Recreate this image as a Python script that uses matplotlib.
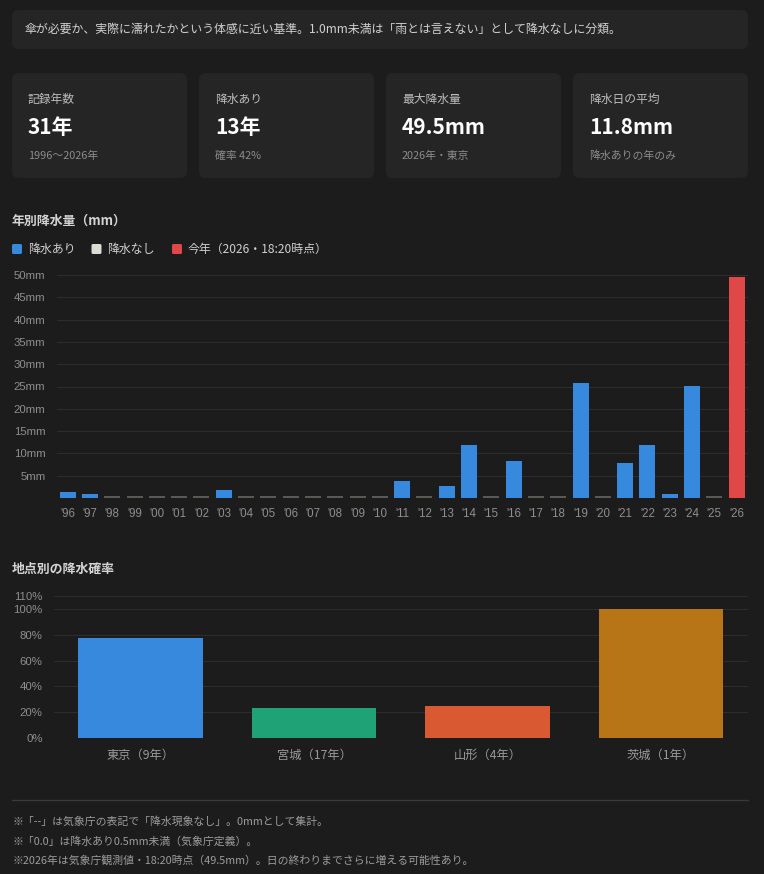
import matplotlib
matplotlib.use("Agg")
import matplotlib.pyplot as plt
from matplotlib.patches import FancyBboxPatch

W, H = 764, 874
BG = "#1c1c1c"
CARD = "#252525"
GRID = "#2d2d2d"
TICK = "#8e8e8e"

plt.rcParams["font.family"] = ["Noto Sans CJK JP", "DejaVu Sans"]

# ---- data ----
note = "傘が必要か、実際に濡れたかという体感に近い基準。1.0mm未満は「雨とは言えない」として降水なしに分類。"
card_labels = ["記録年数", "降水あり", "最大降水量", "降水日の平均"]
card_values = ["31年", "13年", "49.5mm", "11.8mm"]
card_subs = ["1996〜2026年", "確率 42%", "2026年・東京", "降水ありの年のみ"]

years = list(range(1996, 2027))
rain_mm = [1.4, 1.0, 0, 0, 0, 0, 0, 1.9, 0, 0, 0, 0, 0, 0, 0,
           3.8, 0, 2.8, 11.8, 0, 8.3, 0, 0, 25.8, 0, 7.8, 11.8, 1.0, 25.2, 0, 49.5]
current_year = 2026

stations = ["東京（9年）", "宮城（17年）", "山形（4年）", "茨城（1年）"]
station_prob = [77.8, 23.5, 25.0, 100.0]
station_colors = ["#3789dd", "#1fa276", "#d95a32", "#b87517"]

legend_labels = ["降水あり", "降水なし", "今年（2026・18:20時点）"]
legend_colors = ["#3789dd", "#dcdcd2", "#e04848"]

footnotes = [
    "※「--」は気象庁の表記で「降水現象なし」。0mmとして集計。",
    "※「0.0」は降水あり0.5mm未満（気象庁定義）。",
    "※2026年は気象庁観測値・18:20時点（49.5mm）。日の終わりまでさらに増える可能性あり。",
]


def px_rect(left, top, right, bottom):
    return [left / W, 1 - bottom / H, (right - left) / W, (bottom - top) / H]


fig = plt.figure(figsize=(W / 100, H / 100), dpi=100, facecolor=BG)
bg = fig.add_axes([0, 0, 1, 1], zorder=0)
bg.set_xlim(0, W)
bg.set_ylim(H, 0)
bg.axis("off")
bg.set_facecolor(BG)


def card(x, y, w, h, r=7):
    bg.add_patch(FancyBboxPatch((x, y), w, h, boxstyle=f"round,pad=0,rounding_size={r}",
                                facecolor=CARD, edgecolor="none"))


# banner
card(12, 10, 736, 39)
bg.text(25, 29.5, note, color="#d2d2d2", fontsize=8.6, va="center", ha="left")

# stat cards
for i, x in enumerate([12, 199, 386, 573]):
    card(x, 73, 175, 105)
    bg.text(x + 16, 99, card_labels[i], color="#bdbdbd", fontsize=8.5, va="center")
    bg.text(x + 16, 127, card_values[i], color="#ffffff", fontsize=15, fontweight="bold", va="center")
    bg.text(x + 16, 155.5, card_subs[i], color="#8c8c8c", fontsize=7.8, va="center")

# section titles
bg.text(12, 220.5, "年別降水量（mm）", color="#d4d4d4", fontsize=9.3, fontweight="bold", va="center")
bg.text(12, 569, "地点別の降水確率", color="#d4d4d4", fontsize=9.3, fontweight="bold", va="center")

# legend
lx = [12, 91.5, 172]
for x, lab, col in zip(lx, legend_labels, legend_colors):
    bg.add_patch(FancyBboxPatch((x, 244), 10, 10, boxstyle="round,pad=0,rounding_size=1.5",
                                facecolor=col, edgecolor="none"))
    bg.text(x + 16, 249, lab, color="#d0d0d0", fontsize=8.6, va="center")

# ---- yearly chart ----
ax1 = fig.add_axes(px_rect(56.5, 275, 747.8, 498), zorder=1)
ax1.set_facecolor("none")
xs = list(range(len(years)))
heights, colors, alphas = [], [], []
for yr, v in zip(years, rain_mm):
    if yr == current_year:
        colors.append("#e04848")
    elif v > 0:
        colors.append("#3789dd")
    else:
        colors.append("#dcdcd2")
    heights.append(v if v > 0 else 0.35)
    alphas.append(1.0 if v > 0 else 0.32)
bars = ax1.bar(xs, heights, width=0.72, color=colors, zorder=3)
for b, a in zip(bars, alphas):
    b.set_alpha(a)
ax1.set_xlim(-0.5, len(years) - 0.5)
ax1.set_ylim(0, 50)
ax1.set_yticks(range(0, 51, 5))
ax1.set_yticklabels([""] + [f"{v}mm" for v in range(5, 51, 5)])
ax1.set_xticks(xs)
ax1.set_xticklabels([f"'{str(y)[2:]}" for y in years])
ax1.grid(axis="y", color=GRID, linewidth=0.8, zorder=0)
ax1.tick_params(axis="y", length=0, pad=8, colors=TICK, labelsize=8.2)
ax1.tick_params(axis="x", length=0, pad=7, colors=TICK, labelsize=8.3)
for lab in ax1.get_xticklabels() + ax1.get_yticklabels():
    lab.set_family(["Liberation Sans", "DejaVu Sans"])
for s in ax1.spines.values():
    s.set_visible(False)

# ---- station chart ----
ax2 = fig.add_axes(px_rect(53.75, 596, 747.75, 738), zorder=1)
ax2.set_facecolor("none")
ax2.bar(range(len(stations)), station_prob, width=0.72, color=station_colors, zorder=3)
ax2.set_xlim(-0.5, len(stations) - 0.5)
ax2.set_ylim(0, 110)
ax2.set_yticks([0, 20, 40, 60, 80, 100, 110])
ax2.set_yticklabels([f"{v}%" for v in [0, 20, 40, 60, 80, 100, 110]])
ax2.set_xticks(range(len(stations)))
ax2.set_xticklabels(stations)
ax2.grid(axis="y", color=GRID, linewidth=0.8, zorder=0)
ax2.tick_params(axis="y", length=0, pad=8, colors=TICK, labelsize=8.2)
ax2.tick_params(axis="x", length=0, pad=8, colors="#9a9a9a", labelsize=8.8)
for lab in ax2.get_yticklabels():
    lab.set_family(["Liberation Sans", "DejaVu Sans"])
for s in ax2.spines.values():
    s.set_visible(False)

# footer
bg.plot([12, 748], [799.5, 799.5], color="#3a3a3a", linewidth=1)
for y, t in zip([821.7, 841.5, 860], footnotes):
    bg.text(12, y, t, color="#9c9c9c", fontsize=7.8, va="center")

fig.savefig("out.png", dpi=100, facecolor=BG)
